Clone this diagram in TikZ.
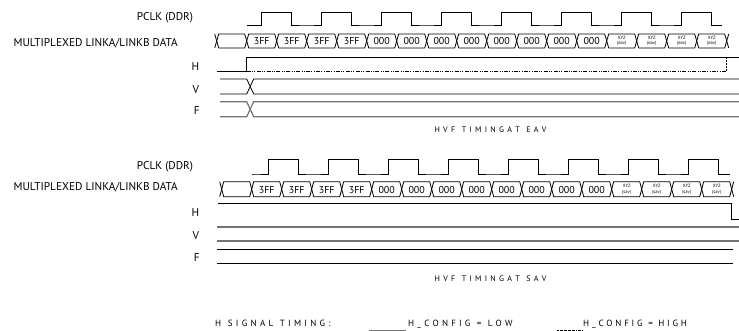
\documentclass[tikz,border=0pt]{standalone}
\usepackage{fontspec}
\setmainfont{PT Sans}
\ExplSyntaxOn
\NewDocumentCommand\mySpaced{mm}{\str_map_inline:nn {#2} {##1\kern #1}\unkern}
\ExplSyntaxOff
\tikzset{
  sig/.style={line width=0.8pt, black},
  gsig/.style={line width=1.2pt, black!55},
  dashdot/.style={line width=0.8pt, black, dash pattern=on 4pt off 1.3pt on 1pt off 1.3pt on 1pt off 1.3pt},
  lbl/.style={font=\fontsize{11.3}{12}\selectfont, inner sep=0pt, anchor=east},
  celltxt/.style={font=\fontsize{10}{11}\selectfont, inner sep=0pt},
  tinytxt/.style={font=\fontsize{4.6}{4.8}\selectfont, inner sep=0pt, align=center},
  captxt/.style={font=\fontsize{8}{9}\selectfont, inner sep=0pt, anchor=base},
  legtxt/.style={font=\fontsize{9}{10}\selectfont, inner sep=0pt, anchor=base west},
}
% #1 first crossing x (partial cell), #2 top y, #3 bottom y, #4 eav/sav, #5 name prefix
\newcommand\myDataRow[5]{%
  \pgfmathsetmacro\myMid{(#2+#3)/2}%
  \draw[sig] (#1-2,#2) -- (#1,\myMid) -- (#1-2,#3);
  \draw[sig] (#1,\myMid) -- (#1+2,#2) -- (#1+28,#2) -- (#1+30,\myMid) -- (#1+28,#3) -- (#1+2,#3) -- cycle;
  \foreach \i in {1,...,16}{
    \pgfmathsetmacro\a{#1+30*\i}
    \draw[sig] (\a,\myMid) -- (\a+2,#2) -- (\a+28,#2) -- (\a+30,\myMid) -- (\a+28,#3) -- (\a+2,#3) -- cycle;
  }
  \pgfmathsetmacro\myEnd{#1+510}%
  \draw[sig] (\myEnd+2,#2) -- (\myEnd,\myMid) -- (\myEnd+2,#3);
  \foreach \i/\t in {1/3FF,2/3FF,3/3FF,4/3FF,5/000,6/000,7/000,8/000,9/000,10/000,11/000,12/000}{
    \node[celltxt] (#5c\i) at ({#1+30*\i+15},\myMid+0.5) {\t};
  }
  \foreach \i in {13,...,16}{
    \node[tinytxt] (#5c\i) at ({#1+30*\i+15},\myMid) {XYZ\\[0.6pt](#4)};
  }
}
\begin{document}
\begin{tikzpicture}[x=1pt,y=-1pt]
\useasboundingbox (0,0) rectangle (739,331);

% ---------------- section 1 : EAV ----------------
\node[lbl] (pclkA) at (193.3,17.5) {PCLK (DDR)};
\node[lbl] (dataA) at (178,43) {MULTIPLEXED LINKA/LINKB DATA};
\node[lbl] (hA) at (199.3,66.3) {H};
\node[lbl] (vA) at (199.3,89.7) {V};
\node[lbl] (fA) at (200,111) {F};

\draw[sig] (246.7,25) \foreach \k in {0,...,6}{ -- ++(15,0) -- ++(0,-13) -- ++(30,0) -- ++(0,13) -- ++(15,0)}
  -- ++(15,0) -- ++(0,-13) -- ++(30,0) -- ++(0,13) -- ++(10.3,0);

\myDataRow{216.7}{34}{48}{eav}{A}

\draw[sig] (216.7,71) -- (246.7,71) -- (246.7,57) -- (739,57);
\draw[dashdot] (246.7,71) -- (726.7,71);
\draw[line width=1pt, dash pattern=on 2pt off 1pt] (726.7,71) -- (726.7,57);

\draw[sig] (220,79) -- (246.7,79) -- (253.7,94) -- (739,94);
\draw[sig] (220,94) -- (246.7,94) -- (253.7,79) -- (739,79);
\draw[gsig] (220,101.7) -- (246.7,101.7) -- (253.7,116.7) -- (739,116.7);
\draw[gsig] (220,116.7) -- (246.7,116.7) -- (253.7,101.7) -- (739,101.7);

\node[captxt] (capA) at (490.5,133) {\mySpaced{3.3pt}{HVF TIMINGAT EAV}};

% ---------------- section 2 : SAV ----------------
\node[lbl] (pclkB) at (193.3,166.3) {PCLK (DDR)};
\node[lbl] (dataB) at (178,187.5) {MULTIPLEXED LINKA/LINKB DATA};
\node[lbl] (hB) at (199.3,212.7) {H};
\node[lbl] (vB) at (199.3,235.5) {V};
\node[lbl] (fB) at (200,257.7) {F};

\draw[sig] (251.7,174) -- ++(1.6,0) \foreach \k in {0,...,6}{ -- ++(15,0) -- ++(0,-14.5) -- ++(30,0) -- ++(0,14.5) -- ++(15,0)}
  -- ++(15,0) -- ++(0,-14.5) -- ++(30,0) -- ++(0,14.5) -- ++(11.7,0);

\myDataRow{221.7}{181.7}{196.7}{sav}{B}

\draw[sig] (218,203.5) -- (731.7,203.5) -- (731.7,219) -- (739,219);
\draw[gsig] (217,227) -- (739,227);
\draw[gsig] (217,241) -- (739,241);
\draw[sig] (217,249) -- (733,249);
\draw[sig] (217,263.5) -- (733,263.5);

\node[captxt] (capB) at (490.5,281) {\mySpaced{3.3pt}{HVF TIMINGAT SAV}};

% ---------------- legend ----------------
\node[legtxt] (legH) at (215,326) {\mySpaced{3.3pt}{H SIGNAL TIMING:}};
\node[legtxt] (legLow) at (408,326) {\mySpaced{3.2pt}{H_CONFIG = LOW}};
\node[legtxt] (legHigh) at (583,326) {\mySpaced{2.8pt}{H_CONFIG = HIGH}};
\draw[gsig, line width=0.8pt] (369,330) -- (406,330);
\draw[dashdot, line width=0.6pt, dash pattern=on 2pt off 0.7pt on 0.7pt off 0.7pt] (557,330) -- (582,330);
\end{tikzpicture}
\end{document}
